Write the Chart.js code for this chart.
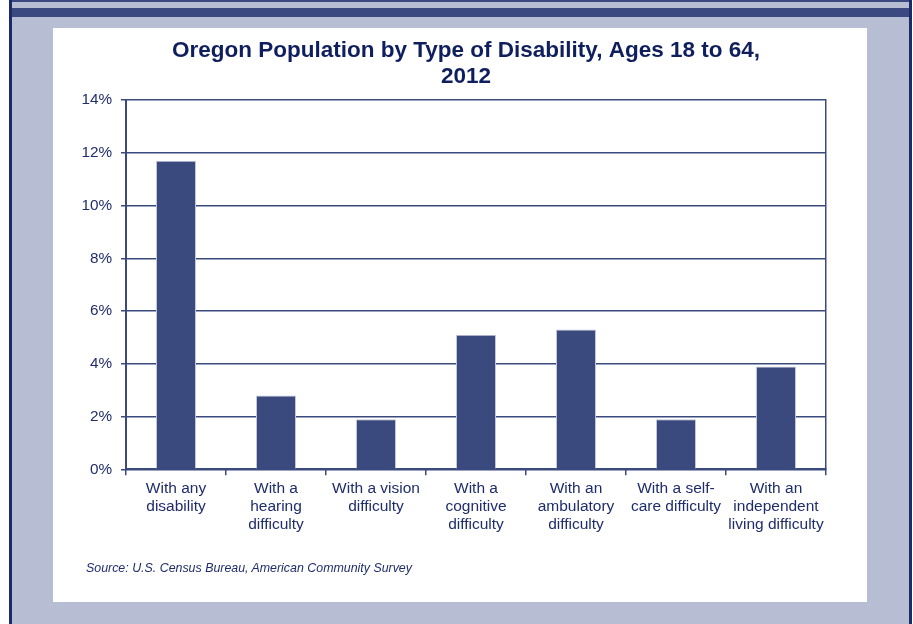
<!DOCTYPE html>
<html>
<head>
<meta charset="utf-8">
<script src="https://cdn.jsdelivr.net/npm/chart.js@4"></script>
<style>
  body { margin: 0; background: #fff; font-family: "Liberation Sans", Arial, sans-serif; }
  #frame { position: absolute; left: 9px; top: 0; width: 903px; height: 624px; box-sizing: border-box;
           background: #b7bdd2; border-left: 3px solid #1c2a6c; border-right: 3px solid #1c2a6c; }
  .band { position: absolute; left: 12px; width: 897px; background: #3a4a80; }
  #panel { position: absolute; left: 53px; top: 28px; width: 814px; height: 574px; background: #fff; }
  #wrap { position: absolute; left: 53px; top: 28px; width: 826px; height: 574px; }
  #source { position: absolute; left: 86px; top: 561px; font-size: 12.4px; font-style: italic; color: #1f2d6b; }
</style>
</head>
<body>
<div id="frame"></div>
<div class="band" style="top:0;height:2px"></div>
<div class="band" style="top:8px;height:9px"></div>
<div id="panel"></div>
<div id="wrap"><canvas id="barChart"></canvas></div>
<div id="source">Source: U.S. Census Bureau, American Community Survey</div>

<script>
var categories = [
  ["With any", "disability"],
  ["With a", "hearing", "difficulty"],
  ["With a vision", "difficulty"],
  ["With a", "cognitive", "difficulty"],
  ["With an", "ambulatory", "difficulty"],
  ["With a self-", "care difficulty"],
  ["With an", "independent", "living difficulty"]
];
var percentValues = [11.7, 2.8, 1.9, 5.1, 5.3, 1.9, 3.9];
var yTicks = [0, 2, 4, 6, 8, 10, 12, 14];

var navy = "#3b4a7e";
var textNavy = "#1f2d6b";

var ctx = document.getElementById('barChart');
var chart = new Chart(ctx, {
  type: 'bar',
  data: {
    labels: categories,
    datasets: [{
      data: percentValues,
      backgroundColor: navy,
      borderColor: "#c3c6d9",
      borderWidth: 1,
      barPercentage: 0.4,
      categoryPercentage: 1.0
    }]
  },
  options: {
    responsive: true,
    maintainAspectRatio: false,
    animation: false,
    layout: { padding: 0 },
    plugins: {
      legend: { display: false },
      tooltip: { enabled: false },
      title: {
        display: true,
        text: ["Oregon Population by Type of Disability, Ages 18 to 64,", "2012"],
        color: "#0f1f5e",
        font: { family: "Liberation Sans", size: 22.5, weight: 'bold', lineHeight: 1.156 },
        padding: { top: 10, bottom: 10 }
      }
    },
    scales: {
      x: {
        offset: true,
        grid: { drawOnChartArea: false, offset: true, color: navy, lineWidth: 1.5, tickLength: 6 },
        border: { display: true, color: navy, width: 2 },
        ticks: {
          autoSkip: false,
          maxRotation: 0,
          padding: 5,
          color: textNavy,
          font: { family: "Liberation Sans", size: 15.5, lineHeight: 1.15 }
        },
        afterFit: function(scale) { scale.height = 132.7; }
      },
      y: {
        min: 0,
        max: 14,
        afterBuildTicks: function(scale) {
          scale.ticks = yTicks.map(function(v) { return { value: v }; });
        },
        grid: { color: navy, lineWidth: 1.5, tickLength: 5 },
        border: { display: true, color: navy, width: 2 },
        ticks: {
          padding: 9,
          color: textNavy,
          font: { family: "Liberation Sans", size: 15.3 },
          callback: function(v) { return v + "%"; }
        },
        afterFit: function(scale) { scale.width = 73; }
      },
      // empty right axis: closes the plot box and keeps space on the right
      yRight: {
        position: 'right',
        min: 0,
        max: 14,
        grid: { display: false },
        border: { display: true, color: navy, width: 1.5 },
        ticks: { display: false },
        afterFit: function(scale) { scale.width = 53; }
      }
    }
  }
});
</script>
</body>
</html>
